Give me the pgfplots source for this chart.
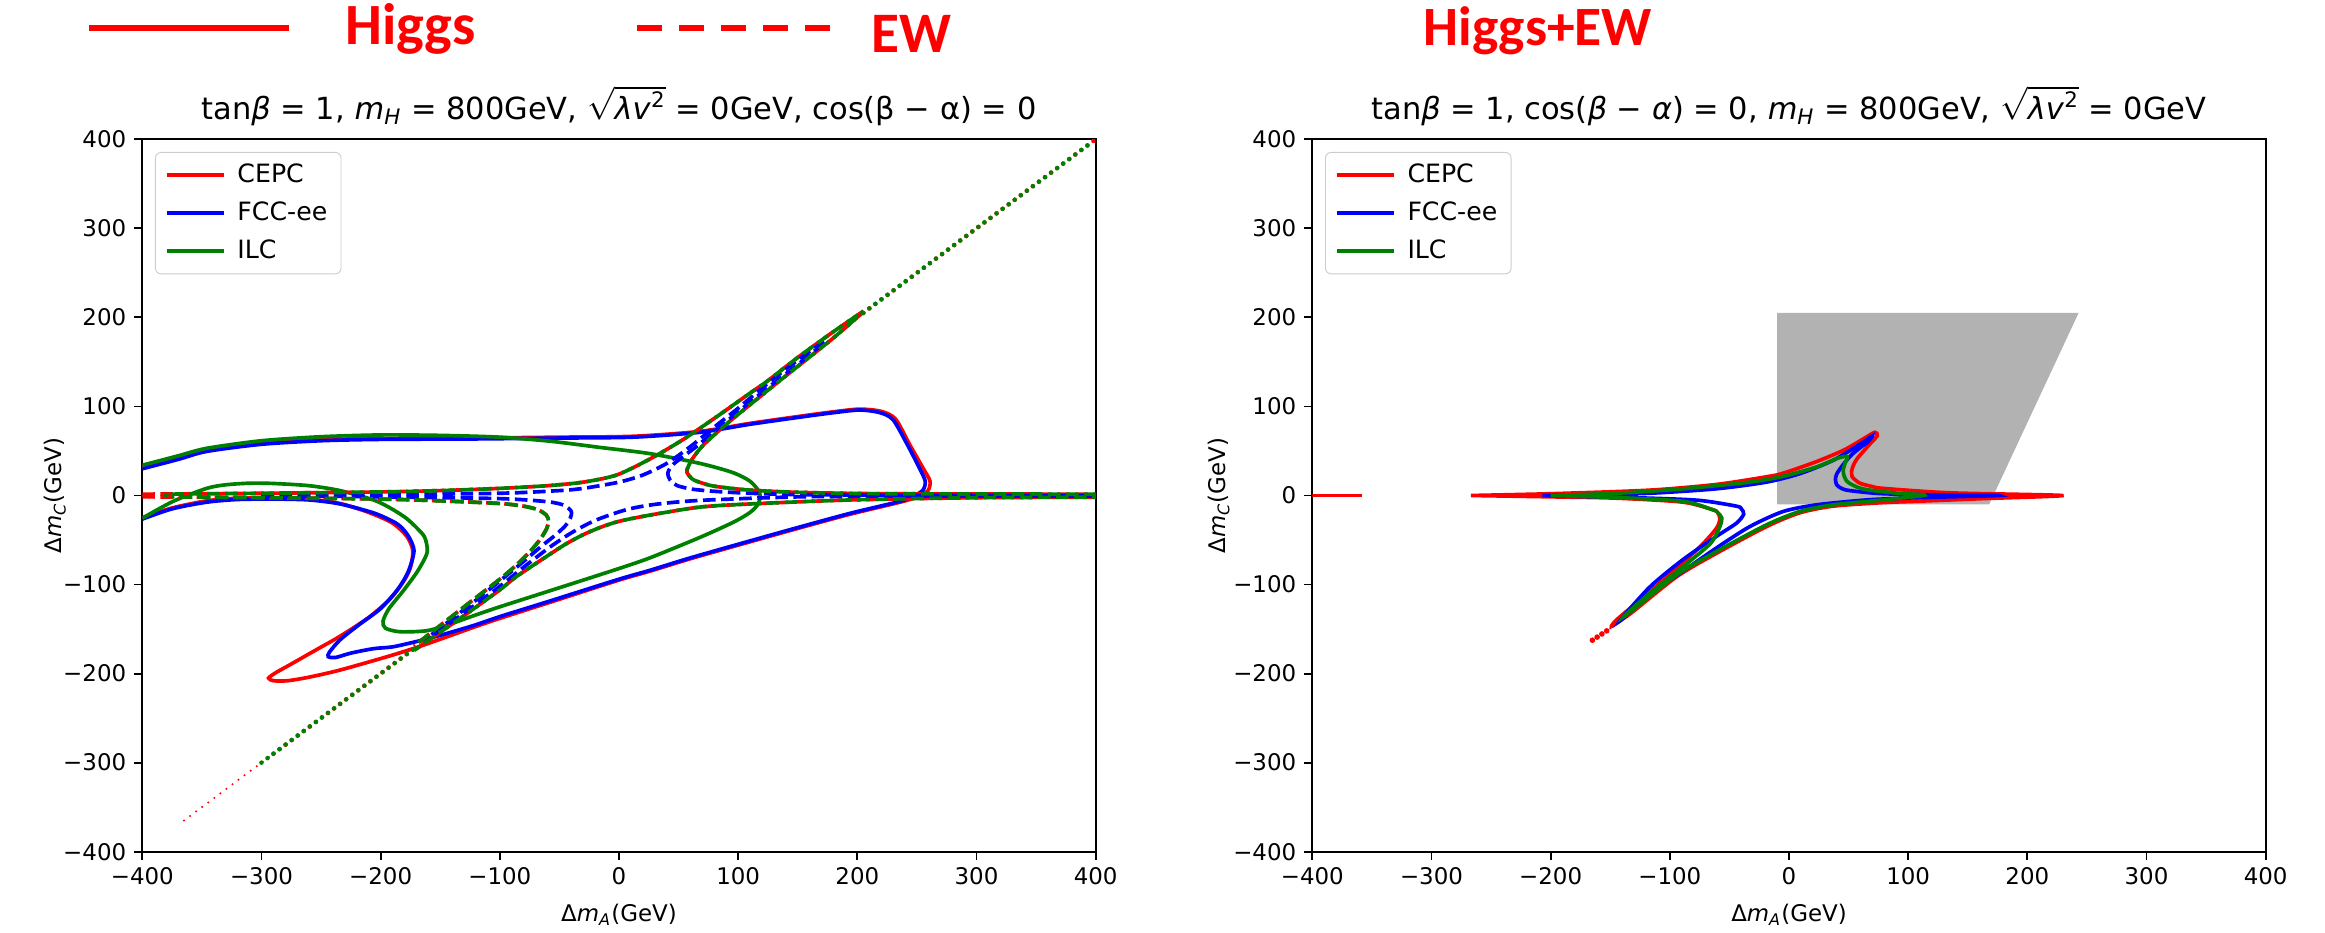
\documentclass[border=0pt]{standalone}
\usepackage{pgfplots}
\pgfplotsset{compat=1.18}
\usepackage{fontspec}
\setmainfont{DejaVu Sans}
\newfontfamily\calibri{Carlito}
\definecolor{mplgreen}{rgb}{0,0.5,0}
\pgfplotsset{
  panel/.style={
    scale only axis, width=416.06pt, height=310.89pt,
    xmin=-400, xmax=400, ymin=-400, ymax=400,
    xtick={-400,-300,...,400}, ytick={-400,-300,...,400},
    xticklabels={−400,−300,−200,−100,0,100,200,300,400},
    yticklabels={−400,−300,−200,−100,0,100,200,300,400},
    xtick pos=left, ytick pos=left,
    tick align=outside, major tick length=3.5pt,
    every tick/.style={black, line width=0.8pt},
    axis line style={line width=0.8pt},
    tick label style={font=\fontsize{10}{12}\selectfont},
    label style={font=\fontsize{10}{12}\selectfont},
    xlabel={Δ\textit{m}\textsubscript{\textit{A}}(GeV)},
    ylabel={Δ\textit{m}\textsubscript{\textit{C}}(GeV)},
    xlabel style={at={(axis description cs:0.5,-0.0889)}, anchor=center},
    title style={at={(0.5,1)}, anchor=base, yshift=2.8pt, font=\fontsize{13.3}{15}\selectfont},
    legend style={at={(0.0133,0.9822)}, anchor=north west, draw=black!20,
      rounded corners=2.5pt, font=\fontsize{11}{13}\selectfont,
      inner xsep=4pt, inner ysep=3pt, row sep=3pt, column sep=3pt, cells={anchor=west}},
    legend image code/.code={\draw[#1, line width=1.8pt] (0pt,0pt) -- (25pt,0pt);},
  },
  hs/.style={line width=1.6pt, smooth, tension=0.45, forget plot},
  ew/.style={line width=1.6pt, smooth, tension=0.45, forget plot, dash pattern=on 5.5pt off 2.4pt},
  dots/.style={line width=2pt, forget plot, dash pattern=on 0pt off 3.3pt, line cap=round},
}
\begin{document}
\begin{tikzpicture}
\useasboundingbox (0,0) rectangle (1014.63pt,407.16pt);

% top key
\draw[red, line width=2.5pt] (38.84pt,395.07pt) -- (126.12pt,395.07pt);
\node[anchor=base west, inner sep=0, text=red, font=\calibri\bfseries\fontsize{25.5}{28}\selectfont] at (150.5pt,387.52pt) {Higgs};
\draw[red, line width=2.5pt, dash pattern=on 11pt off 7.4pt] (277.81pt,395.07pt) -- (362.30pt,395.07pt);
\node[anchor=base west, inner sep=0, text=red, font=\calibri\bfseries\fontsize{25}{28}\selectfont] at (380pt,384.03pt) {EW};
\node[anchor=base west, inner sep=0, text=red, font=\calibri\bfseries\fontsize{24.2}{28}\selectfont] at (621pt,387.5pt) {Higgs+EW};

% ---------------- left panel ----------------
\begin{axis}[panel, at={(62.10pt,35.48pt)}, anchor=south west,
  ylabel style={at={(axis description cs:-0.0916,0.5)}, anchor=center},
  title={tan\textit{β} = 1, \textit{m}\textsubscript{\textit{H}} = 800GeV, $\sqrt{\mbox{\textit{λv}\textsuperscript{2}}}$ = 0GeV, cos(β − α) = 0}]
\addlegendimage{red}
\addlegendimage{blue}
\addlegendimage{mplgreen}
\legend{CEPC, FCC-ee, ILC}

% Higgs (solid)
\addplot[hs, red] coordinates {(-400,32) (-370,42) (-346,50.5) (-300,58.5) (-250,62.5) (-200,64) (-122,64.5) (-50,65.5) (12,66.5) (68,72) (110,81) (152,89) (180,94) (202,97) (220,94.5) (232,86) (244,57) (255,31) (261,16) (259,5) (249,-2) (236,-7.5) (194,-21) (150,-37) (110,-52) (60,-71) (26,-85) (0,-95) (-58,-120) (-100,-138) (-122,-148) (-164,-168) (-192,-180) (-234,-196) (-260,-204) (-278,-208) (-290,-208) (-294,-205) (-288,-199) (-276,-190) (-255,-174) (-234,-158) (-210,-137) (-192,-116) (-181,-97) (-175,-81) (-173,-62) (-178,-46) (-190,-31) (-210,-19) (-234,-9) (-260,-4) (-290,-2.5) (-320,-3) (-346,-6) (-375,-14) (-400,-25)};
\addplot[hs, blue] coordinates {(-400,30) (-370,40.5) (-346,49.5) (-300,57.5) (-250,61.5) (-200,63) (-122,63.5) (-50,64.5) (12,65.5) (68,71) (110,80) (152,88) (180,93) (202,96) (219,93) (230,85) (242,57) (252,31) (257,16) (255,6) (247,-1) (236,-6.5) (194,-20) (150,-36) (110,-51) (60,-70) (26,-84) (0,-94) (-58,-118.5) (-100,-136) (-122,-146) (-150,-157) (-170,-164) (-190,-170) (-206,-172) (-225,-177) (-238,-182) (-244,-181) (-243,-176) (-234,-162) (-218,-145) (-200,-127) (-186,-106) (-177,-86) (-172,-62) (-177,-45) (-186,-32) (-205,-20) (-234,-9.5) (-260,-5) (-290,-4) (-320,-4.5) (-346,-7.5) (-375,-15) (-400,-26.5)};
\addplot[hs, mplgreen] coordinates {(-400,34) (-370,44.5) (-346,53) (-300,61.5) (-250,66) (-200,68) (-150,67.5) (-100,65.5) (-58,61) (-16,54) (26,47) (68,36) (95,26) (110,16) (118,3) (117,-9) (110,-19) (96,-30) (68,-47) (26,-70) (0,-82) (-30,-95) (-58,-107) (-100,-125) (-122,-135) (-145,-146) (-162,-152) (-184,-153) (-196,-149) (-198,-141) (-193,-127) (-181,-107) (-169,-85) (-161,-64) (-163,-47) (-170,-36) (-179,-25) (-192,-14) (-206,-5) (-234,5.5) (-260,11) (-290,13.5) (-310,13.8) (-330,12) (-346,8) (-374,-6.5) (-400,-25.5)};

% diagonal dotted pieces
\addplot[dots, red, line width=1pt] coordinates {(-365,-365) (-290,-290)};
\addplot[dots, red] coordinates {(-290,-290) (-172,-172)};
\addplot[dots, red] coordinates {(205,205) (400,400)};
\addplot[dots, mplgreen] coordinates {(-300,-300) (-172,-172)};
\addplot[dots, mplgreen] coordinates {(205,205) (398,398)};

% EW (dashed) CEPC
\addplot[ew, red] coordinates {(-400,1.5) (-300,2.5) (-200,4) (-150,5.5) (-100,8) (-60,11) (-30,15) (-2,23) (26,41) (54,63) (82,88.5) (110,115) (124,128) (150,155) (180,184) (205,207)};
\addplot[ew, red] coordinates {(205,206) (180,177) (150,145) (135,129) (110,102) (90,80) (71,57) (62,42) (58,32) (57,26) (62,18) (72,13) (82,10) (110,6) (152,3.5) (222,2) (400,1.5)};
\addplot[ew, red] coordinates {(-400,-1.5) (-300,-2.5) (-200,-4) (-150,-6) (-100,-9) (-80,-12) (-68,-16) (-61,-22) (-59,-29) (-61,-38) (-66,-49) (-74,-62) (-86,-78) (-100,-94) (-128,-123) (-150,-146) (-172,-169)};
\addplot[ew, red] coordinates {(400,-2) (300,-2.5) (194,-5) (110,-9.5) (68,-13) (26,-22) (0,-29) (-16,-36) (-30,-44) (-44,-54) (-58,-66) (-86,-91) (-100,-106) (-128,-133) (-150,-153.5) (-172,-174)};
% EW FCC-ee
\addplot[ew, blue] coordinates {(-300,0) (-200,1) (-100,2.5) (-50,5.5) (-30,8) (0,15) (20,23) (40,36) (60,55) (82,79) (100,98) (124,125) (150,152) (172,173)};
\addplot[ew, blue] coordinates {(172,171) (150,147) (124,120) (100,94) (82,74) (65,55) (52,42) (44,33) (41,25) (43,17) (49,11) (62,7) (82,4.5) (110,2.5) (152,1) (250,0.3) (400,0)};
\addplot[ew, blue] coordinates {(-300,0) (-200,-1.5) (-100,-3.5) (-60,-7) (-46,-11) (-40,-18) (-41,-26) (-45,-34) (-53,-44) (-66,-58) (-80,-74) (-100,-96) (-128,-126) (-160,-159)};
\addplot[ew, blue] coordinates {(400,-0.5) (250,-0.8) (152,-1.5) (68,-5.5) (30,-10) (6,-16) (-20,-28) (-40,-42) (-58,-58) (-80,-80.5) (-100,-102) (-128,-130) (-160,-161)};
% EW ILC
\addplot[ew, mplgreen, dash phase=4pt] coordinates {(-378,0) (-376,1.5) (-300,2.5) (-200,4) (-150,5.5) (-100,8) (-60,11) (-30,15) (-2,23) (26,41) (54,63) (82,88.5) (110,115) (124,128) (150,155) (180,184) (205,207)};
\addplot[ew, mplgreen, dash phase=4pt] coordinates {(205,206) (180,177) (150,145) (135,129) (110,102) (90,80) (71,57) (62,42) (58,32) (57,26) (62,18) (72,13) (82,10) (110,6) (152,3.5) (222,2) (400,1.5)};
\addplot[ew, mplgreen, dash phase=4pt] coordinates {(-376,-1.5) (-300,-2.5) (-200,-4) (-150,-6) (-100,-9) (-80,-12) (-68,-16) (-61,-22) (-59,-29) (-61,-38) (-66,-49) (-74,-62) (-86,-78) (-100,-94) (-128,-123) (-150,-146) (-172,-169)};
\addplot[ew, mplgreen, dash phase=4pt] coordinates {(400,-2) (300,-2.5) (194,-5) (110,-9.5) (68,-13) (26,-22) (0,-29) (-16,-36) (-30,-44) (-44,-54) (-58,-66) (-86,-91) (-100,-106) (-128,-133) (-150,-153.5) (-172,-174)};
\end{axis}

% ---------------- right panel ----------------
\begin{axis}[panel, at={(572.69pt,35.48pt)}, anchor=south west,
  ylabel style={at={(axis description cs:-0.098,0.5)}, anchor=center},
  title={tan\textit{β} = 1, cos(\textit{β} − \textit{α}) = 0, \textit{m}\textsubscript{\textit{H}} = 800GeV, $\sqrt{\mbox{\textit{λv}\textsuperscript{2}}}$ = 0GeV}]
\addlegendimage{red}
\addlegendimage{blue}
\addlegendimage{mplgreen}
\legend{CEPC, FCC-ee, ILC}

\addplot[fill=black!30, draw=none, forget plot] coordinates {(-10,-10) (-10,205) (243,205) (168,-10)} -- cycle;

\addplot[line width=1.6pt, red, forget plot] coordinates {(-400,0) (-358,0)};
\addplot[hs, red] coordinates {(-267,0) (-200,2) (-117,6) (-61,12.4) (-19,21) (-5,25) (23,38) (46,51) (62,63.3) (72,71) (74,67) (68,58) (62,49) (57,41) (54,34) (52.5,27) (53,21) (56,17) (60,13.5) (70,10) (79,8) (135,3) (229,0) (163,-3.5) (107,-6.5) (79,-8) (37,-12) (9,-19.5) (-19,-35) (-61,-65) (-94,-91) (-131,-130.5) (-140,-139) (-149,-147) (-145,-140) (-131,-124) (-103,-92) (-75,-58) (-61,-37) (-58,-26) (-60,-19) (-64,-16) (-89,-7.5) (-145,-3) (-200,-1.5) (-267,0)};
\addplot[only marks, mark=*, red, mark size=1pt, forget plot] coordinates {(-153,-152) (-157,-155.5) (-161,-159) (-165,-162.5)};
\addplot[hs, blue] coordinates {(-207,0) (-172,0.8) (-117,2.5) (-61,7.5) (-19,15) (9,24.5) (37,39.5) (60,58) (70,67) (66,60) (60,54) (52,45) (45,34) (40,24) (39,18) (40,12) (44,8) (51,5.5) (79,2) (135,0.5) (176,0) (107,-2.5) (65,-5) (23,-10.5) (-5,-18) (-33,-35) (-61,-59) (-89,-85) (-117,-111) (-142,-141) (-117,-103) (-89,-72) (-61,-46) (-44,-31) (-38,-21) (-40,-15) (-44,-12) (-75,-5.5) (-117,-3) (-172,-1.2) (-207,0)};
\addplot[hs, mplgreen] coordinates {(-200,0) (-145,2.5) (-89,7.5) (-33,15) (-5,21.5) (23,32) (40,41.5) (48,44) (49,42) (47,36) (45.5,29) (46,23) (48,17) (51,13.5) (58,9) (68,6) (93,2.3) (114,0.4) (79,-5) (37,-10.5) (9,-18) (-19,-33) (-61,-63) (-94,-89) (-131,-128.5) (-139,-136) (-117,-110) (-89,-80) (-66,-54) (-58,-35) (-56.5,-25) (-60,-19) (-64,-16) (-89,-6.5) (-145,-2.3) (-200,0)};
\end{axis}
\end{tikzpicture}
\end{document}
